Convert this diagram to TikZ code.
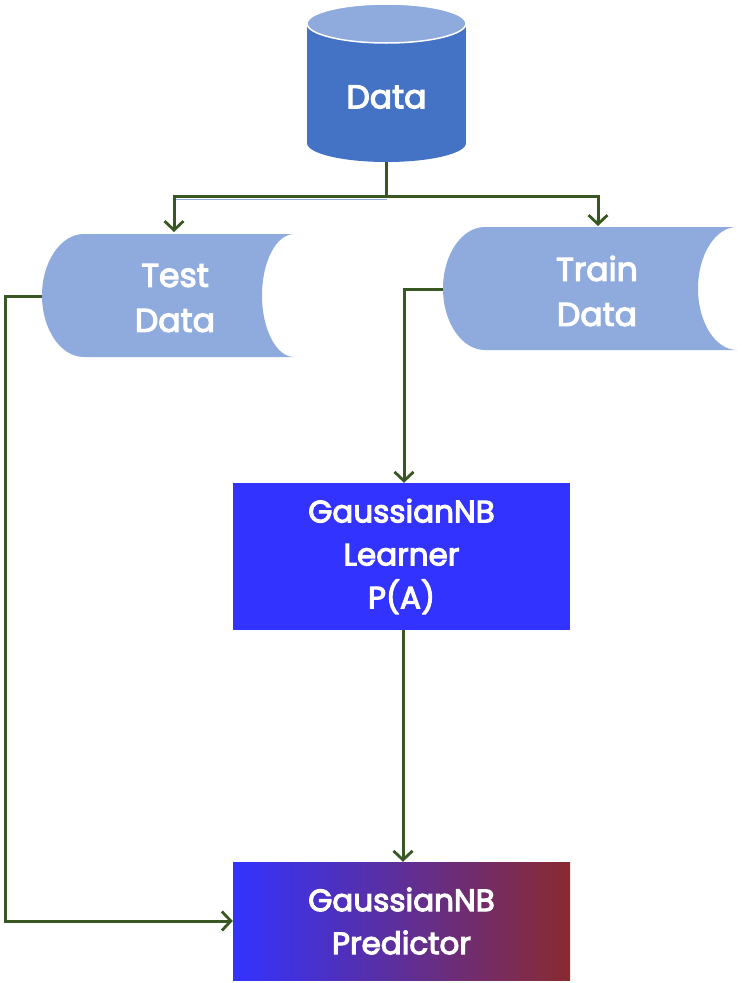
\documentclass[tikz,border=0pt]{standalone}
\usepackage{fontspec}
\setmainfont{Poppins}[FakeBold=3.5]
\usetikzlibrary{arrows.meta,calc}
\definecolor{dbody}{HTML}{4472C4}
\definecolor{lblue}{HTML}{8FAADC}
\definecolor{vblue}{RGB}{51,51,255}
\definecolor{maroon}{RGB}{138,42,48}
\definecolor{lgreen}{HTML}{385723}
\tikzset{
  conn/.style={draw=lgreen, line width=3pt, -{Straight Barb[length=9pt,width=19pt,line width=2.8pt]}},
  lbl/.style={text=white, align=center, font=\fontsize{33}{45}\selectfont, inner sep=0pt},
  boxlbl/.style={text=white, align=center, font=\fontsize{31}{43}\selectfont, inner sep=0pt},
}
\newcommand{\stdshape}[6]{% L R T B a b
  \pgfmathsetmacro{\Mid}{(#3+#4)/2}\pgfmathsetmacro{\Ry}{(#4-#3)/2}
  \fill[lblue] ({#1+#5},#3) -- (#2,#3)
    .. controls ({#2-0.5523*#6},#3) and ({#2-#6},{\Mid-0.5523*\Ry}) .. ({#2-#6},\Mid)
    .. controls ({#2-#6},{\Mid+0.5523*\Ry}) and ({#2-0.5523*#6},#4) .. (#2,#4)
    -- ({#1+#5},#4)
    .. controls ({#1+#5-0.5523*#5},#4) and (#1,{\Mid+0.5523*\Ry}) .. (#1,\Mid)
    .. controls (#1,{\Mid-0.5523*\Ry}) and ({#1+#5-0.5523*#5},#3) .. cycle;
}
\begin{document}
\begin{tikzpicture}[x=1pt,y=-1pt]
\useasboundingbox (0,0) rectangle (746,983);
% cylinder
\fill[dbody] (307,24) rectangle (466,143);
\fill[dbody] (386.5,143) ellipse [x radius=79.5, y radius=19];
\fill[lblue, draw=white, line width=1.5pt] (386.5,23.5) ellipse [x radius=79.5, y radius=19.5];
\node[lbl] (data) at (386.5,97) {Data};
\coordinate (dataS) at (386.5,162);
% stored data shapes
\stdshape{42}{294}{234}{357}{42}{32}
\stdshape{443}{737}{227}{350}{42}{39}
\node[lbl] (test) at (175,298) {Test\\Data};
\node[lbl] (train) at (597,291) {Train\\Data};
\coordinate (testW) at (42,296);
\coordinate (trainW) at (443,289);
\coordinate (testN) at (174,232);
\coordinate (trainN) at (598,226);
% boxes
\node[fill=vblue, minimum width=337pt, minimum height=147pt, inner sep=0pt] (learner) at (401.5,556.5) {};
\node[boxlbl] at (learner.center) {GaussianNB\\Learner\\P(A)};
\node[left color=vblue, right color=maroon, minimum width=337pt, minimum height=118pt, inner sep=0pt] (predictor) at (401.5,921) {};
\node[boxlbl] at (predictor.center) {GaussianNB\\Predictor};
% connectors
\coordinate (split) at (386.5,196);
\draw[lblue, line width=1pt] (174,199) -- (386.5,199);
\draw[conn] (dataS) -- (split) -| (testN);
\draw[conn] (split) -| (trainN);
\draw[conn] (testW) -- (5,296) |- (predictor.west);
\draw[conn] (trainW) -| (learner.north -| 404,0);
\draw[conn] (learner.south -| 403,0) -- (predictor.north -| 403,0);
\end{tikzpicture}
\end{document}
